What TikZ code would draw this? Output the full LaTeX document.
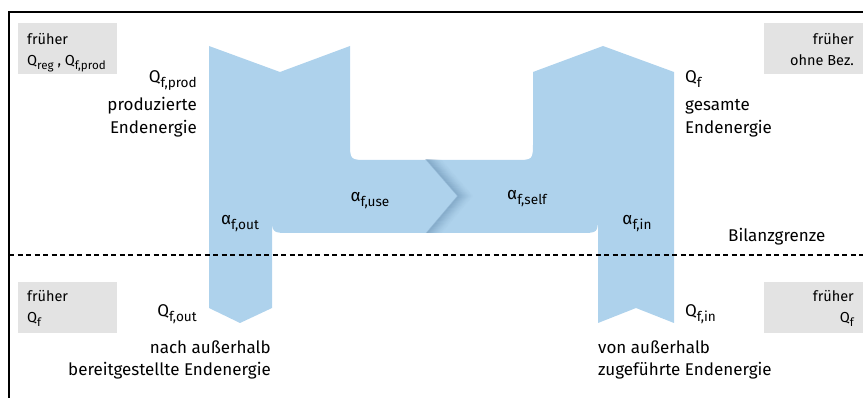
\documentclass[tikz,border=0pt]{standalone}
\usepackage{fontspec}
\setmainfont{Fira Sans}
\usetikzlibrary{positioning}

\definecolor{flowblue}{RGB}{174,210,236}
\definecolor{shadeblue}{RGB}{95,135,170}
\definecolor{oldgray}{RGB}{227,227,227}
\newcommand{\idx}[1]{\raisebox{-0.5ex}{\scalebox{0.8}{#1}}}

\begin{document}
\begin{tikzpicture}[
  x=1pt, y=-1pt,
  lbl/.style={inner sep=0pt, font=\fontsize{17}{20}\selectfont},
  oldbox/.style={fill=oldgray, draw=none, inner sep=0pt, anchor=north west,
                 minimum width=99pt, minimum height=51pt},
  oldtxt/.style={inner sep=0pt, font=\fontsize{14.5}{16}\selectfont},
  flow/.style={fill=flowblue, draw=none},
  border/.style={line width=1.2pt},
]
  \useasboundingbox (0,0) rectangle (863,398);

  % Rahmen (nur oben und links)
  \draw[border] (9,398) -- (9,12) -- (863,12);

  % ═══ Energiefluss ═══════════════════════════════════════════
  \fill[flow] (209,46) -- (280,72) -- (350,46) -- (350,142)
    .. controls (350,160) .. (368,160) -- (515,160)
    .. controls (533,160) .. (533,142) -- (533,72) -- (603,46) -- (674,72)
    -- (674,323) -- (636,308) -- (598,323) -- (598,215)
    .. controls (598,233) .. (580,233) -- (290,233)
    .. controls (272,233) .. (272,215) -- (272,308) -- (240,323) -- (209,308)
    -- cycle;

  % Schatten am Pfeil use -> self
  \begin{scope}
    \clip (400,160) rectangle (490,233);
    \foreach \d [evaluate=\d as \op using {0.32*(1-\d/16)^1.5}] in {0,...,15} {
      \draw[shadeblue, line width=1.3pt, opacity=\op]
        (425+\d,158) -- (458+\d,196) -- (425+\d,235);
    }
  \end{scope}

  % Bilanzgrenze
  \draw[border, dash pattern=on 5pt off 3.5pt] (9,255) -- (863,255);
  \node[lbl, anchor=base west] (grenze) at (728,242) {Bilanzgrenze};

  % ═══ Anteile ════════════════════════════════════════════════
  \node[lbl, anchor=base] (a_out)  at (240,225) {α\idx{f,out}};
  \node[lbl, anchor=base] (a_use)  at (370,202) {α\idx{f,use}};
  \node[lbl, anchor=base] (a_self) at (527,200) {α\idx{f,self}};
  \node[lbl, anchor=base] (a_in)   at (637,225) {α\idx{f,in}};

  % ═══ Mengen oben ════════════════════════════════════════════
  \node[lbl, anchor=base east] (q_prod)   at (197,83)  {Q\idx{f,prod}};
  \node[lbl, anchor=base east] (q_prod_a) at (197,111) {produzierte};
  \node[lbl, anchor=base east] (q_prod_b) at (197,134) {Endenergie};

  \node[lbl, anchor=base west] (q_f)   at (685,83)  {Q\idx{f}};
  \node[lbl, anchor=base west] (q_f_a) at (685,111) {gesamte};
  \node[lbl, anchor=base west] (q_f_b) at (685,134) {Endenergie};

  % ═══ Mengen unten ═══════════════════════════════════════════
  \node[lbl, anchor=base east] (q_out)   at (197,317) {Q\idx{f,out}};
  \node[lbl, anchor=base east] (q_out_a) at (271,353) {nach außerhalb};
  \node[lbl, anchor=base east] (q_out_b) at (271,376) {bereitgestellte Endenergie};

  \node[lbl, anchor=base west] (q_in)   at (685,317) {Q\idx{f,in}};
  \node[lbl, anchor=base west] (q_in_a) at (598,353) {von außerhalb};
  \node[lbl, anchor=base west] (q_in_b) at (598,376) {zugeführte Endenergie};

  % ═══ frühere Bezeichnungen ══════════════════════════════════
  \node[oldbox] (old_prod) at (18,23)  {};
  \node[oldbox] (old_tot)  at (764,23) {};
  \node[oldbox] (old_out)  at (18,282) {};
  \node[oldbox] (old_in)   at (764,282) {};

  \node[oldtxt, anchor=base west] (old_prod_a) at (27,45) {früher};
  \node[oldtxt, anchor=base west] (old_prod_b) at (27,66) {Q\idx{reg} , Q\idx{f,prod}};
  \node[oldtxt, anchor=base east] (old_tot_a)  at (854,45) {früher};
  \node[oldtxt, anchor=base east] (old_tot_b)  at (854,66) {ohne Bez.};
  \node[oldtxt, anchor=base west] (old_out_a)  at (27,302) {früher};
  \node[oldtxt, anchor=base west] (old_out_b)  at (27,323) {Q\idx{f}};
  \node[oldtxt, anchor=base east] (old_in_a)   at (854,302) {früher};
  \node[oldtxt, anchor=base east] (old_in_b)   at (854,323) {Q\idx{f}};
\end{tikzpicture}
\end{document}
